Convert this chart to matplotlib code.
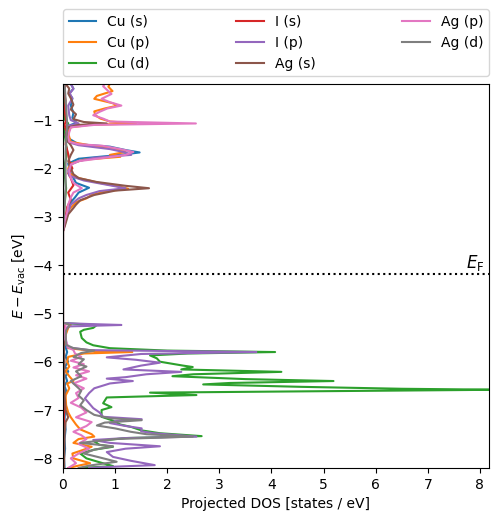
import matplotlib
matplotlib.use("Agg")
import matplotlib.pyplot as plt

E_F = -4.18

# ---- Cu (s)
E_cu_s = [-0.25, -0.35, -0.45, -0.55, -0.7, -0.85, -0.95, -1.05, -1.08, -1.12, -1.2, -1.35, -1.5, -1.55,
          -1.62, -1.67, -1.72, -1.8, -1.9, -2.0, -2.1, -2.2, -2.3, -2.4, -2.5, -2.6, -2.7, -2.85, -3.0,
          -3.2, -3.3, -5.2, -5.3, -5.5, -5.7, -5.8, -5.9, -6.0, -6.1, -6.2, -6.3, -6.4, -6.5, -6.6,
          -6.8, -7.0, -7.2, -7.4, -7.6, -7.8, -8.0, -8.2]
cu_s = [0.15, 0.2, 0.12, 0.18, 0.15, 0.2, 0.18, 0.25, 0.2, 0.1, 0.08, 0.06, 0.3, 0.9,
        1.2, 1.47, 1.1, 0.3, 0.1, 0.12, 0.15, 0.2, 0.25, 0.5, 0.3, 0.23, 0.15, 0.1, 0.05,
        0.02, 0.0, 0.0, 0.02, 0.03, 0.05, 0.08, 0.05, 0.1, 0.04, 0.1, 0.05, 0.08, 0.03, 0.06,
        0.03, 0.04, 0.03, 0.05, 0.03, 0.04, 0.02, 0.03]

# ---- Cu (p)
E_cu_p = [-0.25, -0.31, -0.4, -0.5, -0.56, -0.65, -0.7, -0.76, -0.82, -0.9, -0.97, -1.03, -1.07, -1.1,
          -1.15, -1.25, -1.35, -1.45, -1.52, -1.6, -1.66, -1.72, -1.76, -1.82, -1.9, -2.0, -2.1, -2.2,
          -2.3, -2.38, -2.42, -2.48, -2.55, -2.62, -2.7, -2.85, -3.0, -3.2, -3.3,
          -5.2, -5.24, -5.3, -5.45, -5.6, -5.72, -5.78, -5.8, -5.83, -5.9, -6.0, -6.1, -6.2, -6.3,
          -6.4, -6.45, -6.55, -6.7, -6.9, -7.05, -7.15, -7.3, -7.4, -7.5, -7.55, -7.6, -7.68, -7.76,
          -7.82, -7.9, -8.0, -8.1, -8.15, -8.2]
cu_p = [0.9, 0.87, 0.95, 0.65, 0.6, 0.95, 1.05, 0.8, 0.6, 0.62, 0.72, 0.9, 1.4, 0.5,
        0.15, 0.1, 0.12, 0.15, 0.5, 1.0, 1.2, 0.9, 1.1, 0.4, 0.15, 0.1, 0.12, 0.3,
        0.7, 1.1, 1.25, 0.8, 0.55, 0.45, 0.25, 0.12, 0.05, 0.02, 0.0,
        0.0, 0.15, 0.1, 0.05, 0.05, 0.1, 0.6, 1.33, 0.4, 0.1, 0.08, 0.12, 0.05, 0.12,
        0.2, 0.08, 0.12, 0.05, 0.06, 0.1, 0.15, 0.25, 0.33, 0.55, 0.6, 0.3, 0.2, 0.55,
        0.4, 0.18, 0.2, 0.52, 0.3, 0.1]

# ---- Cu (d)
E_cu_d = [-0.25, -1.0, -1.07, -1.2, -1.66, -2.0, -2.41, -3.0, -3.3,
          -5.2, -5.22, -5.24, -5.3, -5.34, -5.38, -5.51, -5.6, -5.66, -5.72, -5.77, -5.8, -5.83,
          -5.87, -5.93, -6.0, -6.08, -6.11, -6.16, -6.21, -6.26, -6.3, -6.36, -6.4, -6.44, -6.47,
          -6.52, -6.56, -6.58, -6.61, -6.64, -6.69, -6.72, -6.74, -6.86, -6.94, -7.0, -7.14, -7.22,
          -7.3, -7.35, -7.42, -7.48, -7.54, -7.58, -7.65, -7.72, -7.76, -7.82, -7.9, -8.0, -8.08,
          -8.16, -8.2]
cu_d = [0.03, 0.04, 0.1, 0.02, 0.08, 0.02, 0.06, 0.01, 0.0,
        0.0, 0.3, 0.65, 0.58, 0.4, 0.33, 0.36, 0.45, 0.58, 0.9, 2.0, 4.07, 2.4,
        1.67, 1.8, 1.86, 2.3, 2.49, 2.27, 4.19, 2.5, 2.1, 3.5, 5.19, 3.2, 2.69,
        4.57, 6.5, 8.4, 5.0, 1.67, 2.56, 1.5, 0.84, 0.77, 0.93, 0.74, 0.74, 0.96,
        1.1, 1.31, 1.5, 1.86, 2.66, 1.2, 0.6, 0.7, 0.96, 0.6, 0.33, 0.45, 0.7,
        0.96, 0.33]

# ---- I (s)
E_i_s = [-0.25, -0.4, -0.6, -0.8, -1.0, -1.1, -1.3, -1.5, -1.7, -1.85, -2.0, -2.1, -2.2, -2.35,
         -2.5, -2.65, -2.8, -3.0, -3.2, -3.3, -5.2, -5.25, -6.0, -7.0, -8.2]
i_s = [0.05, 0.02, 0.05, 0.03, 0.06, 0.03, 0.08, 0.05, 0.1, 0.12, 0.18, 0.1, 0.15, 0.2,
       0.1, 0.15, 0.08, 0.05, 0.02, 0.0, 0.0, 0.02, 0.01, 0.02, 0.01]

# ---- I (p)
E_i_p = [-0.25, -0.35, -0.45, -0.55, -0.7, -0.9, -1.0, -1.07, -1.12, -1.3, -1.45, -1.52, -1.6,
         -1.67, -1.72, -1.78, -1.85, -1.92, -2.05, -2.15, -2.25, -2.33, -2.41, -2.47, -2.55, -2.62,
         -2.75, -2.9, -3.1, -3.25, -3.3,
         -5.2, -5.22, -5.24, -5.27, -5.35, -5.5, -5.7, -5.76, -5.79, -5.8, -5.84, -5.91, -5.96,
         -6.02, -6.08, -6.16, -6.21, -6.26, -6.32, -6.35, -6.4, -6.45, -6.55, -6.65, -6.76, -6.86,
         -6.96, -7.05, -7.14, -7.19, -7.23, -7.27, -7.33, -7.38, -7.44, -7.48, -7.55, -7.58, -7.62,
         -7.68, -7.75, -7.8, -7.87, -7.97, -8.05, -8.14, -8.18, -8.2]
i_p = [0.15, 0.2, 0.13, 0.18, 0.1, 0.12, 0.15, 0.3, 0.1, 0.05, 0.08, 0.3, 0.9,
       1.2, 1.31, 0.6, 0.3, 0.15, 0.1, 0.12, 0.4, 0.8, 1.2, 0.7, 0.45, 0.3,
       0.15, 0.1, 0.05, 0.01, 0.0,
       0.0, 0.5, 1.12, 0.1, 0.03, 0.05, 0.08, 0.5, 3.0, 3.71, 1.5, 0.84, 1.4,
       1.86, 1.5, 1.16, 2.27, 1.6, 1.2, 0.84, 1.34, 0.9, 0.6, 0.5, 0.42, 0.5,
       0.58, 0.7, 0.77, 1.51, 1.0, 0.9, 1.2, 1.51, 1.5, 1.74, 2.56, 1.2, 0.58,
       0.9, 1.86, 1.2, 0.84, 0.96, 1.3, 1.76, 0.8, 0.5]

# ---- Ag (s)
E_ag_s = [-0.25, -0.35, -0.45, -0.55, -0.68, -0.78, -0.88, -0.98, -1.04, -1.07, -1.1, -1.15, -1.3,
          -1.45, -1.52, -1.62, -1.72, -1.85, -2.0, -2.12, -2.2, -2.28, -2.36, -2.41, -2.46, -2.55,
          -2.66, -2.75, -2.82, -2.95, -3.1, -3.21, -3.3,
          -5.2, -5.8, -6.0, -6.5, -7.0, -7.15, -7.25, -7.5, -8.2]
ag_s = [0.05, 0.12, 0.1, 0.15, 0.2, 0.15, 0.25, 0.2, 0.4, 0.84, 0.3, 0.1, 0.05,
        0.1, 0.15, 0.2, 0.15, 0.1, 0.15, 0.2, 0.3, 0.64, 1.2, 1.65, 1.0, 0.6,
        0.33, 0.25, 0.2, 0.1, 0.06, 0.03, 0.0,
        0.0, 0.02, 0.03, 0.02, 0.05, 0.1, 0.05, 0.03, 0.02]

# ---- Ag (p)
E_ag_p = [-0.25, -0.3, -0.38, -0.46, -0.56, -0.63, -0.7, -0.76, -0.83, -0.9, -0.97, -1.03, -1.07,
          -1.1, -1.15, -1.25, -1.35, -1.45, -1.5, -1.53, -1.6, -1.66, -1.72, -1.78, -1.85, -1.92,
          -2.05, -2.2, -2.3, -2.41, -2.5, -2.6, -2.75, -2.9, -3.1, -3.3,
          -5.2, -5.24, -5.5, -5.7, -5.76, -5.83, -5.9, -5.98, -6.05, -6.12, -6.2, -6.28, -6.35,
          -6.45, -6.55, -6.65, -6.75, -6.85, -6.95, -7.05, -7.15, -7.25, -7.33, -7.45, -7.52, -7.6,
          -7.7, -7.8, -7.9, -8.0, -8.1, -8.2]
ag_p = [0.8, 0.77, 0.85, 0.93, 0.74, 0.9, 1.12, 0.85, 0.7, 0.58, 0.77, 0.9, 2.55,
        0.6, 0.15, 0.12, 0.1, 0.12, 0.3, 0.75, 1.1, 1.35, 1.2, 0.8, 0.3, 0.15,
        0.12, 0.15, 0.2, 0.36, 0.2, 0.15, 0.1, 0.08, 0.03, 0.0,
        0.0, 0.05, 0.03, 0.1, 0.2, 0.23, 0.35, 0.15, 0.4, 0.2, 0.5, 0.25, 0.45,
        0.2, 0.4, 0.25, 0.3, 0.15, 0.35, 0.45, 0.25, 0.55, 0.45, 0.2, 0.35, 0.45,
        0.3, 0.5, 0.3, 0.15, 0.25, 0.1]

# ---- Ag (d)
E_ag_d = [-0.25, -1.07, -1.66, -2.41, -3.3,
          -5.2, -5.22, -5.26, -5.35, -5.5, -5.65, -5.72, -5.77, -5.82, -5.9, -5.95, -6.05, -6.1,
          -6.2, -6.3, -6.4, -6.5, -6.6, -6.7, -6.8, -6.9, -7.0, -7.1, -7.17, -7.21, -7.26, -7.32,
          -7.38, -7.45, -7.5, -7.55, -7.6, -7.68, -7.75, -7.82, -7.9, -7.98, -8.07, -8.15, -8.2]
ag_d = [0.03, 0.08, 0.05, 0.05, 0.0,
        0.0, 0.1, 0.12, 0.06, 0.05, 0.06, 0.2, 0.6, 0.35, 0.2, 0.4, 0.3, 0.45,
        0.25, 0.35, 0.15, 0.25, 0.35, 0.3, 0.4, 0.33, 0.45, 0.6, 0.9, 1.51, 0.8, 0.65,
        1.0, 1.3, 1.6, 2.49, 1.0, 0.33, 0.96, 0.6, 0.4, 0.7, 1.03, 0.5, 0.3]

series = [
    ("Cu (s)", E_cu_s, cu_s),
    ("Cu (p)", E_cu_p, cu_p),
    ("Cu (d)", E_cu_d, cu_d),
    ("I (s)", E_i_s, i_s),
    ("I (p)", E_i_p, i_p),
    ("Ag (s)", E_ag_s, ag_s),
    ("Ag (p)", E_ag_p, ag_p),
    ("Ag (d)", E_ag_d, ag_d),
]

fig = plt.figure(figsize=(4.98, 5.22), dpi=100)
ax = fig.add_axes([0.1265, 0.1034, 0.855, 0.736])

for label, E, d in series:
    ax.plot(d, E, label=label, lw=1.5)

ax.axhline(E_F, color="k", ls=":")
ax.set_xlim(0, 8.17)
ax.set_ylim(-8.2, -0.25)
ax.text(8.08, E_F + 0.02, r"$E_\mathrm{F}$", ha="right", va="bottom", fontsize=12)
ax.set_xlabel("Projected DOS [states / eV]")
ax.set_ylabel(r"$E - E_\mathrm{vac}$ [eV]")
ax.legend(loc="lower left", bbox_to_anchor=(0, 1.02, 1, 0.2), mode="expand", ncol=3,
          borderaxespad=0)

fig.savefig("out.png", dpi=100)
